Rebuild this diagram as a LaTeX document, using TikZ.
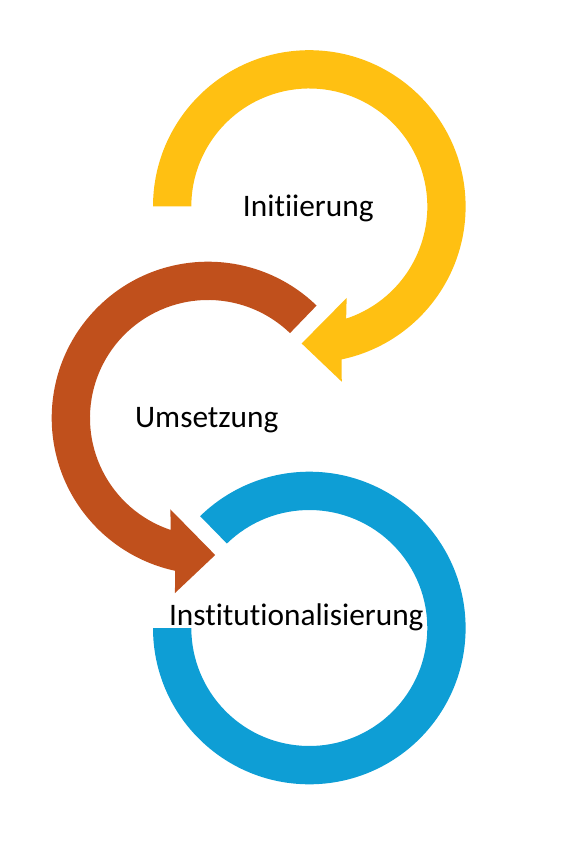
\documentclass[tikz,border=0pt]{standalone}
\usepackage{fontspec}
\setmainfont[Ligatures=NoCommon]{Carlito}
\newlength{\du}
\setlength{\du}{0.75pt}
\begin{document}
\begin{tikzpicture}[yscale=-1,
  phase/.style={anchor=base,inner sep=0pt,outer sep=0pt,font=\fontsize{23.5}{28}\selectfont}]
\useasboundingbox (0\du,0\du) rectangle (574\du,852\du);
\definecolor{initfill}{rgb}{1.000000, 0.752941, 0.070588}
\definecolor{umsfill}{rgb}{0.752941, 0.313725, 0.109804}
\definecolor{instfill}{rgb}{0.054902, 0.619608, 0.835294}
% Initiierung, clockwise with head
\begin{scope}[shift={(309.3\du,206.5\du)}]
\fill[initfill] (180:156.3\du) arc[start angle=180, end angle=438.1, radius=156.3\du]
  -- (439.5:178.2\du) -- (453.2:137.2\du) -- (427.8:98.8\du) -- (431.8:118\du)
  arc[start angle=431.8, end angle=180, radius=118\du] -- cycle;
\end{scope}
% Umsetzung, counter clockwise with head
\begin{scope}[shift={(208\du,418\du)}]
\fill[umsfill] (-46:156.3\du) arc[start angle=-46, end angle=-257.9, radius=156.3\du]
  -- (-259.3:178.2\du) -- (-273:137.2\du) -- (-247.6:98.8\du) -- (-251.6:118\du)
  arc[start angle=-251.6, end angle=-46, radius=118\du] -- cycle;
\end{scope}
% Institutionalisierung, no head
\begin{scope}[shift={(309.3\du,628\du)}]
\fill[instfill] (180:156.3\du) arc[start angle=180, end angle=-134.3, radius=156.3\du]
  -- (-134.3:118\du) arc[start angle=-134.3, end angle=180, radius=118\du] -- cycle;
\end{scope}
\node[phase] (initiierung) at (308.3\du,216.7\du) {Initiierung};
\node[phase] (umsetzung) at (206.7\du,427.3\du) {Umsetzung};
\node[phase] (institutionalisierung) at (296.3\du,625.7\du) {Institutionalisierung};
\end{tikzpicture}
\end{document}
